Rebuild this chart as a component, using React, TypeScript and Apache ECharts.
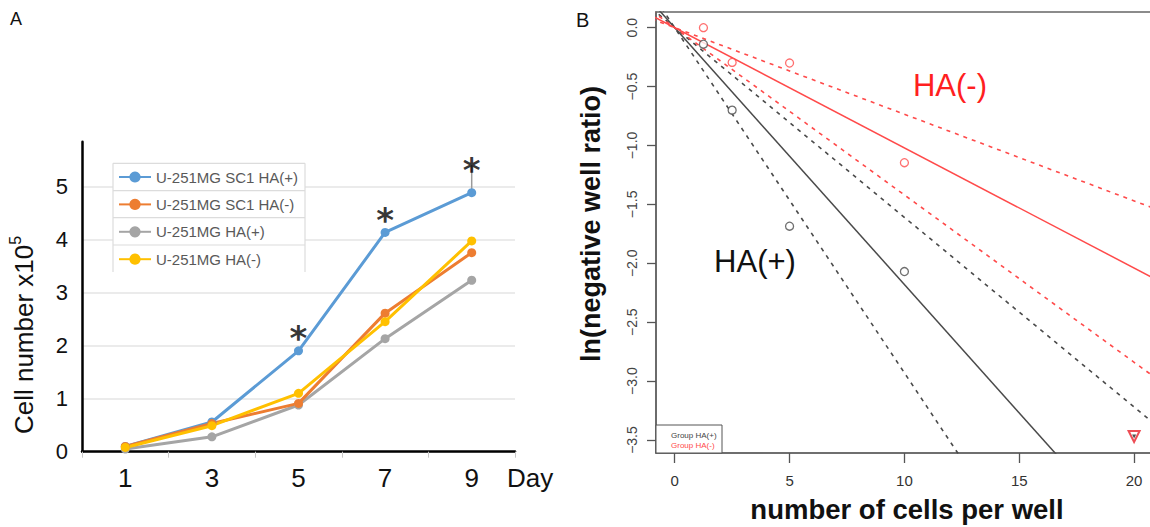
import React, { useEffect, useRef } from 'react';
import * as echarts from 'echarts';

// ---------- Panel A data ----------
const days = ['1', '3', '5', '7', '9'];
const seriesNames = ['U-251MG SC1 HA(+)', 'U-251MG SC1 HA(-)', 'U-251MG HA(+)', 'U-251MG HA(-)'];
const sc1HaPos = [0.1, 0.56, 1.9, 4.13, 4.88];
const sc1HaNeg = [0.1, 0.53, 0.91, 2.61, 3.75];
const haPos = [0.05, 0.28, 0.88, 2.13, 3.23];
const haNeg = [0.08, 0.49, 1.1, 2.45, 3.97];
const seriesColors = ['#5b9bd5', '#ed7d31', '#a5a5a5', '#ffc000'];
const yTicksA = [0, 1, 2, 3, 4, 5];
const sigDays = ['5', '7', '9'];
const sigMarkY = [2.14, 4.37, 5.31];
const errDay = '9';
const errUpper = 5.4;

// ---------- Panel B data ----------
const doses = [1.25, 2.5, 5, 10];
const logFracHAPos = [-0.14, -0.7, -1.685, -2.07];
const logFracHANeg = [0.0, -0.295, -0.3, -1.146];
const infDose = 20;
const infY = -3.47;
const groupNames = ['Group HA(+)', 'Group HA(-)'];
const fitSlopes = [-0.218, -0.102];
const lowerSlopes = [-0.293, -0.142];
const upperSlopes = [-0.161, -0.0735];
const xTicksB = [0, 5, 10, 15, 20];
const yTicksB = [0, -0.5, -1, -1.5, -2, -2.5, -3, -3.5];
const lineDomain = [-1, 25];

const FONT = '"Liberation Sans", Arial, sans-serif';
const BLACK_B = '#4a4a4a';
const RED_B = '#ff4a4a';

function lineData(slope: number) {
  return lineDomain.map((x) => [x, slope * x]);
}

export default function App() {
  const ref = useRef<HTMLDivElement>(null);

  useEffect(() => {
    if (!ref.current) return;
    const chart = echarts.init(ref.current, undefined, { renderer: 'svg' });

    const aValues = [sc1HaPos, sc1HaNeg, haPos, haNeg];
    const drawOrder = [0, 2, 1, 3];
    const aSeries: any[] = drawOrder.map((i) => ({
      name: seriesNames[i],
      type: 'line',
      xAxisIndex: 0,
      yAxisIndex: 0,
      data: aValues[i],
      color: seriesColors[i],
      symbol: 'circle',
      symbolSize: 9,
      lineStyle: { width: 3, color: seriesColors[i] },
      itemStyle: { color: seriesColors[i] },
      z: 3,
    }));

    const errIdx = days.indexOf(errDay);
    const errSeries = {
      type: 'custom',
      xAxisIndex: 0,
      yAxisIndex: 0,
      data: [[errIdx, sc1HaPos[errIdx], errUpper]],
      z: 2,
      renderItem: (params: any, api: any) => {
        const p0 = api.coord([api.value(0), api.value(1)]);
        const p1 = api.coord([api.value(0), api.value(2)]);
        return {
          type: 'line',
          shape: { x1: p0[0], y1: p0[1], x2: p1[0], y2: p1[1] },
          style: { stroke: '#9a9a9a', lineWidth: 1.5 },
        };
      },
    };

    const sigSeries = {
      type: 'scatter',
      xAxisIndex: 0,
      yAxisIndex: 0,
      symbolSize: 1,
      itemStyle: { color: 'rgba(0,0,0,0)' },
      silent: true,
      data: sigDays.map((d, i) => [days.indexOf(d), sigMarkY[i]]),
      label: {
        show: true,
        position: 'inside',
        formatter: '*',
        fontSize: 34,
        fontWeight: 'bold',
        fontFamily: '"DejaVu Sans", sans-serif',
        color: '#000',
      },
      z: 5,
    };

    const groupColors = [BLACK_B, RED_B];
    const bLines: any[] = [];
    [0, 1].forEach((g) => {
      bLines.push({
        type: 'line',
        xAxisIndex: 1,
        yAxisIndex: 1,
        data: lineData(fitSlopes[g]),
        showSymbol: false,
        clip: true,
        lineStyle: { color: groupColors[g], width: 1.5 },
        z: 2,
      });
      [lowerSlopes[g], upperSlopes[g]].forEach((s) => {
        bLines.push({
          type: 'line',
          xAxisIndex: 1,
          yAxisIndex: 1,
          data: lineData(s),
          showSymbol: false,
          clip: true,
          lineStyle: { color: groupColors[g], width: 1.6, type: [4, 5] },
          z: 2,
        });
      });
    });

    const bPoints: any[] = [
      {
        type: 'scatter',
        xAxisIndex: 1,
        yAxisIndex: 1,
        symbol: 'circle',
        symbolSize: 8,
        itemStyle: { color: '#fff', borderColor: BLACK_B, borderWidth: 1.3 },
        data: doses.map((d, i) => [d, logFracHAPos[i]]),
        z: 4,
      },
      {
        type: 'scatter',
        xAxisIndex: 1,
        yAxisIndex: 1,
        symbol: 'circle',
        symbolSize: 8,
        itemStyle: { color: '#fff', borderColor: RED_B, borderWidth: 1.3 },
        data: doses.map((d, i) => [d, logFracHANeg[i]]),
        z: 4,
      },
      {
        type: 'scatter',
        xAxisIndex: 1,
        yAxisIndex: 1,
        symbol: 'triangle',
        symbolRotate: 180,
        symbolSize: 11,
        itemStyle: { color: '#fff', borderColor: '#e8202a', borderWidth: 2 },
        data: [[infDose, infY]],
        z: 4,
      },
      {
        type: 'scatter',
        xAxisIndex: 1,
        yAxisIndex: 1,
        symbol: 'triangle',
        symbolRotate: 180,
        symbolSize: 4,
        itemStyle: { color: '#222' },
        data: [[infDose, infY]],
        z: 5,
      },
    ];

    const option: any = {
      animation: false,
      backgroundColor: '#fff',
      textStyle: { fontFamily: FONT },
      legend: {
        orient: 'vertical',
        left: 118,
        top: 168,
        padding: 0,
        itemWidth: 32,
        itemHeight: 14,
        itemGap: 9.4,
        z: 6,
        data: seriesNames,
        textStyle: { fontSize: 15, color: '#595959', fontFamily: FONT, lineHeight: 18 },
      },
      grid: [
        { left: 82, top: 141.7, width: 433, height: 310, containLabel: false },
        {
          left: 656,
          top: 12,
          width: 547,
          height: 441,
          show: true,
          borderColor: '#666',
          borderWidth: 1.6,
          backgroundColor: 'rgba(0,0,0,0)',
          containLabel: false,
        },
      ],
      xAxis: [
        {
          type: 'category',
          gridIndex: 0,
          data: days,
          boundaryGap: true,
          axisLine: { lineStyle: { color: '#000', width: 2.5 } },
          axisTick: { show: true, length: 6, lineStyle: { color: '#c8c8c8', width: 1 } },
          axisLabel: { fontSize: 26, color: '#111', margin: 13, fontFamily: FONT },
          splitLine: { show: false },
        },
        {
          type: 'value',
          gridIndex: 1,
          min: -0.815,
          max: 23,
          axisLine: { show: true, onZero: false, lineStyle: { color: '#666', width: 1.6 } },
          axisTick: {
            show: true,
            length: 10,
            customValues: xTicksB,
            lineStyle: { color: '#555', width: 1.3 },
          },
          axisLabel: {
            customValues: xTicksB,
            fontSize: 15,
            color: '#333',
            margin: 20,
            fontFamily: FONT,
          },
          splitLine: { show: false },
        },
      ],
      yAxis: [
        {
          type: 'value',
          gridIndex: 0,
          min: 0,
          max: 5.84,
          interval: 1,
          axisLine: { show: true, lineStyle: { color: '#000', width: 2.5 } },
          axisTick: { show: false },
          axisLabel: {
            fontSize: 22,
            color: '#111',
            margin: 14,
            customValues: yTicksA,
            fontFamily: FONT,
          },
          splitLine: { show: true, showMaxLine: false, lineStyle: { color: '#e4e4e4', width: 1.5 } },
        },
        {
          type: 'value',
          gridIndex: 1,
          min: -3.61,
          max: 0.133,
          axisLine: { show: true, onZero: false, lineStyle: { color: '#666', width: 1.6 } },
          axisTick: {
            show: true,
            length: 9,
            customValues: yTicksB,
            lineStyle: { color: '#555', width: 1.3 },
          },
          axisLabel: {
            customValues: yTicksB,
            rotate: 90,
            fontSize: 14,
            color: '#444',
            margin: 17,
            fontFamily: FONT,
            formatter: (v: number) => (v === 0 ? '0.0' : '\u2212' + Math.abs(v).toFixed(1)),
          },
          splitLine: { show: false },
        },
      ],
      series: [...aSeries, errSeries, sigSeries, ...bLines, ...bPoints],
      graphic: [
        // panel letters
        { type: 'text', left: 10, top: 10, style: { text: 'A', fontSize: 18, fill: '#111', fontFamily: FONT } },
        { type: 'text', left: 576, top: 10, style: { text: 'B', fontSize: 20, fill: '#111', fontFamily: FONT } },
        // y axis title A
        {
          type: 'text',
          x: 22,
          y: 335,
          rotation: Math.PI / 2,
          style: {
            text: '{main|Cell number x10}{sup|5}',
            textAlign: 'center',
            textVerticalAlign: 'middle',
            fill: '#111',
            fontFamily: FONT,
            rich: {
              main: { fontSize: 26, fontFamily: FONT, fill: '#111', verticalAlign: 'bottom', lineHeight: 30 },
              sup: { fontSize: 16, fontFamily: FONT, fill: '#111', verticalAlign: 'top', lineHeight: 30 },
            },
          },
        },
        // "Day" label
        {
          type: 'text',
          x: 507,
          y: 478,
          style: { text: 'Day', fontSize: 26, fill: '#111', fontFamily: FONT, textVerticalAlign: 'middle' },
        },
        // legend frame A
        {
          type: 'rect',
          z: 3,
          shape: { x: 113, y: 163.3, width: 192, height: 109 },
          style: { fill: '#fff', stroke: 'none' },
        },
        ...[163.3, 190.7, 217.7, 245].map((y) => ({
          type: 'line',
          z: 3,
          shape: { x1: 113, y1: y, x2: 305, y2: y },
          style: { stroke: '#dcdcdc', lineWidth: 1.2 },
        })),
        ...[113, 305].map((x) => ({
          type: 'line',
          z: 3,
          shape: { x1: x, y1: 163.3, x2: x, y2: 272 },
          style: { stroke: '#dcdcdc', lineWidth: 1.2 },
        })),
        // Panel B titles and annotations
        {
          type: 'text',
          x: 591,
          y: 224,
          rotation: Math.PI / 2,
          style: {
            text: 'ln(negative well ratio)',
            fontSize: 27,
            fontWeight: 'bold',
            fill: '#111',
            fontFamily: FONT,
            textAlign: 'center',
            textVerticalAlign: 'middle',
          },
        },
        {
          type: 'text',
          x: 950,
          y: 85,
          z: 6,
          style: {
            text: 'HA(-)',
            fontSize: 31,
            fill: '#ff1f1f',
            fontFamily: FONT,
            textAlign: 'center',
            textVerticalAlign: 'middle',
          },
        },
        {
          type: 'text',
          x: 755,
          y: 261,
          z: 6,
          style: {
            text: 'HA(+)',
            fontSize: 31,
            fill: '#111',
            fontFamily: FONT,
            textAlign: 'center',
            textVerticalAlign: 'middle',
          },
        },
        {
          type: 'text',
          x: 907,
          y: 509,
          style: {
            text: 'number of cells per well',
            fontSize: 27.5,
            fontWeight: 'bold',
            fill: '#111',
            fontFamily: FONT,
            textAlign: 'center',
            textVerticalAlign: 'middle',
          },
        },
        // Panel B legend box
        {
          type: 'rect',
          z: 6,
          shape: { x: 656, y: 425, width: 66, height: 28 },
          style: { fill: '#fff', stroke: '#555', lineWidth: 1 },
        },
        ...groupNames.map((t, i) => ({
          type: 'text',
          z: 7,
          x: 671,
          y: 435 + i * 10,
          style: {
            text: t,
            fontSize: 8,
            fill: i === 0 ? '#444' : RED_B,
            fontFamily: FONT,
            textVerticalAlign: 'middle',
          },
        })),
      ],
    };

    chart.setOption(option);
    return () => chart.dispose();
  }, []);

  return (
    <div
      style={{
        position: 'absolute',
        left: 0,
        top: 0,
        width: 1150,
        height: 527,
        overflow: 'hidden',
        background: '#fff',
      }}
    >
      <div ref={ref} style={{ width: 1260, height: 527 }} />
    </div>
  );
}
